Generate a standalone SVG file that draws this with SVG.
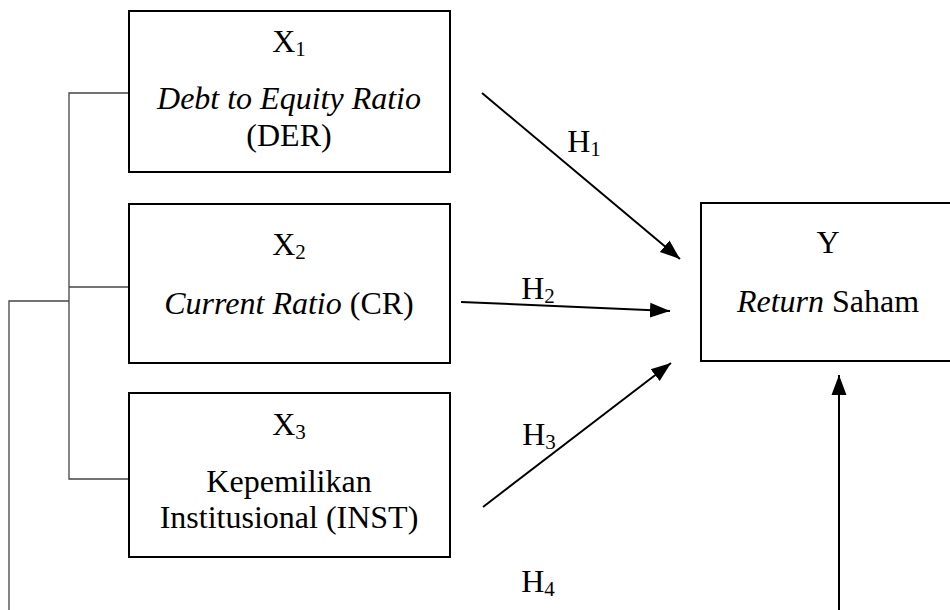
<svg xmlns="http://www.w3.org/2000/svg" width="950" height="610" viewBox="0 0 950 610">
<style>
text{font-family:"Liberation Serif","Times New Roman","DejaVu Serif",serif;font-size:32px;fill:#000;text-anchor:middle}
.it{font-style:italic}
.sub{font-size:21px}
.box{fill:#fff;stroke:#000;stroke-width:2}
.br{fill:none;stroke:#444;stroke-width:1.3}
.ar{fill:none;stroke:#000;stroke-width:2;marker-end:url(#ah)}
</style>
<defs>
<marker id="ah" markerUnits="userSpaceOnUse" markerWidth="22" markerHeight="18" viewBox="0 0 22 18" refX="20" refY="9" orient="auto">
<path d="M0,1.5 L20,9 L0,16.5 Z" fill="#000"/>
</marker>
</defs>
<rect width="950" height="610" fill="#fff"/>
<g id="connectors">
<polyline class="br" points="129,93 69,93 69,479 129,479"/>
<line class="br" x1="69" y1="287" x2="129" y2="287"/>
<polyline class="br" points="69,301 9,301 9,610"/>
<line class="ar" x1="482" y1="93" x2="680" y2="259"/>
<line class="ar" x1="461" y1="302" x2="670" y2="311"/>
<line class="ar" x1="483" y1="507" x2="671" y2="363"/>
<line class="ar" x1="839" y1="610" x2="839" y2="375"/>
<text x="584" y="152">H<tspan class="sub" dy="4">1</tspan></text>
<text x="538" y="299">H<tspan class="sub" dy="4">2</tspan></text>
<text x="539" y="445">H<tspan class="sub" dy="4">3</tspan></text>
<text x="538" y="592">H<tspan class="sub" dy="4">4</tspan></text>
</g>
<g id="x1">
<rect class="box" x="129" y="11" width="321" height="161"/>
<text x="289" y="52">X<tspan class="sub" dy="4">1</tspan></text>
<text x="289" y="109" class="it">Debt to Equity Ratio</text>
<text x="289" y="146">(DER)</text>
</g>
<g id="x2">
<rect class="box" x="129" y="204" width="321" height="159"/>
<text x="289" y="255">X<tspan class="sub" dy="4">2</tspan></text>
<text x="289" y="314"><tspan class="it">Current Ratio</tspan> (CR)</text>
</g>
<g id="x3">
<rect class="box" x="129" y="393" width="321" height="164"/>
<text x="289" y="435">X<tspan class="sub" dy="4">3</tspan></text>
<text x="289" y="492">Kepemilikan</text>
<text x="289" y="528">Institusional (INST)</text>
</g>
<g id="y">
<rect class="box" x="701" y="203" width="256" height="158"/>
<text x="828" y="253">Y</text>
<text x="828" y="312"><tspan class="it">Return</tspan> Saham</text>
</g>
</svg>
